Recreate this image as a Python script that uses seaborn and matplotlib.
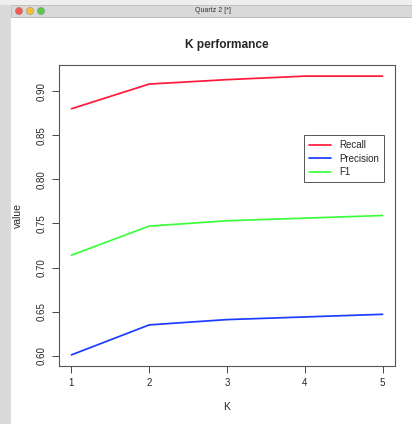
import matplotlib
matplotlib.use("Agg")
import matplotlib.pyplot as plt
import matplotlib.patches as mpatches
import seaborn as sns
import pandas as pd

k_values = [1, 2, 3, 4, 5]
recall = [0.880, 0.908, 0.913, 0.917, 0.917]
precision = [0.601, 0.635, 0.641, 0.644, 0.647]
f1 = [0.714, 0.747, 0.753, 0.756, 0.759]
series_names = ["Recall", "Precision", "F1"]
y_ticks = [0.60, 0.65, 0.70, 0.75, 0.80, 0.85, 0.90]
y_tick_labels = ["0.60", "0.65", "0.70", "0.75", "0.80", "0.85", "0.90"]

df = pd.DataFrame({
    "K": k_values * 3,
    "value": recall + precision + f1,
    "metric": [series_names[0]] * 5 + [series_names[1]] * 5 + [series_names[2]] * 5,
})

sns.set_theme(style="ticks")
plt.rcParams["font.family"] = ["Liberation Sans", "DejaVu Sans"]

W, H = 412, 424
fig = plt.figure(figsize=(W / 100, H / 100), dpi=100)
fig.patch.set_facecolor("white")

# window chrome
fig.patches.append(mpatches.Rectangle((0, 0), 11 / W, 1, transform=fig.transFigure,
                                      facecolor="#dadada", edgecolor="none", zorder=0))
fig.patches.append(mpatches.Rectangle((0, 1 - 5 / H), 1, 5 / H, transform=fig.transFigure,
                                      facecolor="#efefef", edgecolor="none", zorder=0))
fig.patches.append(mpatches.Rectangle((11 / W, 1 - 17 / H), 1, 12 / H, transform=fig.transFigure,
                                      facecolor="#d9d9d9", edgecolor="#b0b0b0", lw=0.5, zorder=1))
for cx, col in [(19, "#f05a50"), (30, "#f4be3a"), (41, "#5cc84a")]:
    fig.patches.append(mpatches.Circle((cx / W, 1 - 11 / H), 3.6 / W, transform=fig.transFigure,
                                       facecolor=col, edgecolor="#888888", lw=0.3, zorder=2))
fig.text(213 / W, 1 - 11 / H, "Quartz 2 [*]", ha="center", va="center", fontsize=5, color="#333333")

ax = fig.add_axes([59 / W, 1 - 366 / H, 336 / W, 301 / H])
palette = {"Recall": "#ff1a3a", "Precision": "#1a3cff", "F1": "#3cff3c"}
sns.lineplot(data=df, x="K", y="value", hue="metric", palette=palette, ax=ax,
             linewidth=1.25, legend=True)

ax.set_xlim(0.84, 5.16)
ax.set_ylim(0.5884, 0.9296)
ax.set_xticks(k_values)
ax.set_xticklabels([str(k) for k in k_values], fontsize=7)
ax.set_yticks(y_ticks)
ax.set_yticklabels(y_tick_labels, fontsize=7, rotation=90, va="center")
ax.tick_params(axis="both", direction="out", length=5, width=0.7, color="#444444", pad=4)
for s in ax.spines.values():
    s.set_visible(True)
    s.set_color("#555555")
    s.set_linewidth(0.8)
ax.set_xlabel("K", fontsize=7.5)
ax.xaxis.set_label_coords(0.5, -(401.5 - 366) / 301, transform=ax.transAxes)
ax.set_ylabel("value", fontsize=7.5)
ax.yaxis.set_label_coords(-(59 - 23) / 336, 0.5, transform=ax.transAxes)
ax.set_title("K performance", fontsize=8.6, fontweight="bold", pad=12.5)

handles, labels = ax.get_legend_handles_labels()
leg = ax.legend(handles, labels, loc="upper left", bbox_to_anchor=(0.730, 0.7664),
                borderaxespad=0, fontsize=7, frameon=True, fancybox=False,
                edgecolor="#555555", framealpha=1, handlelength=2.2, handletextpad=0.9,
                labelspacing=0.35, borderpad=0.5)
leg.get_frame().set_linewidth(0.7)

fig.savefig("out.png", dpi=100)
